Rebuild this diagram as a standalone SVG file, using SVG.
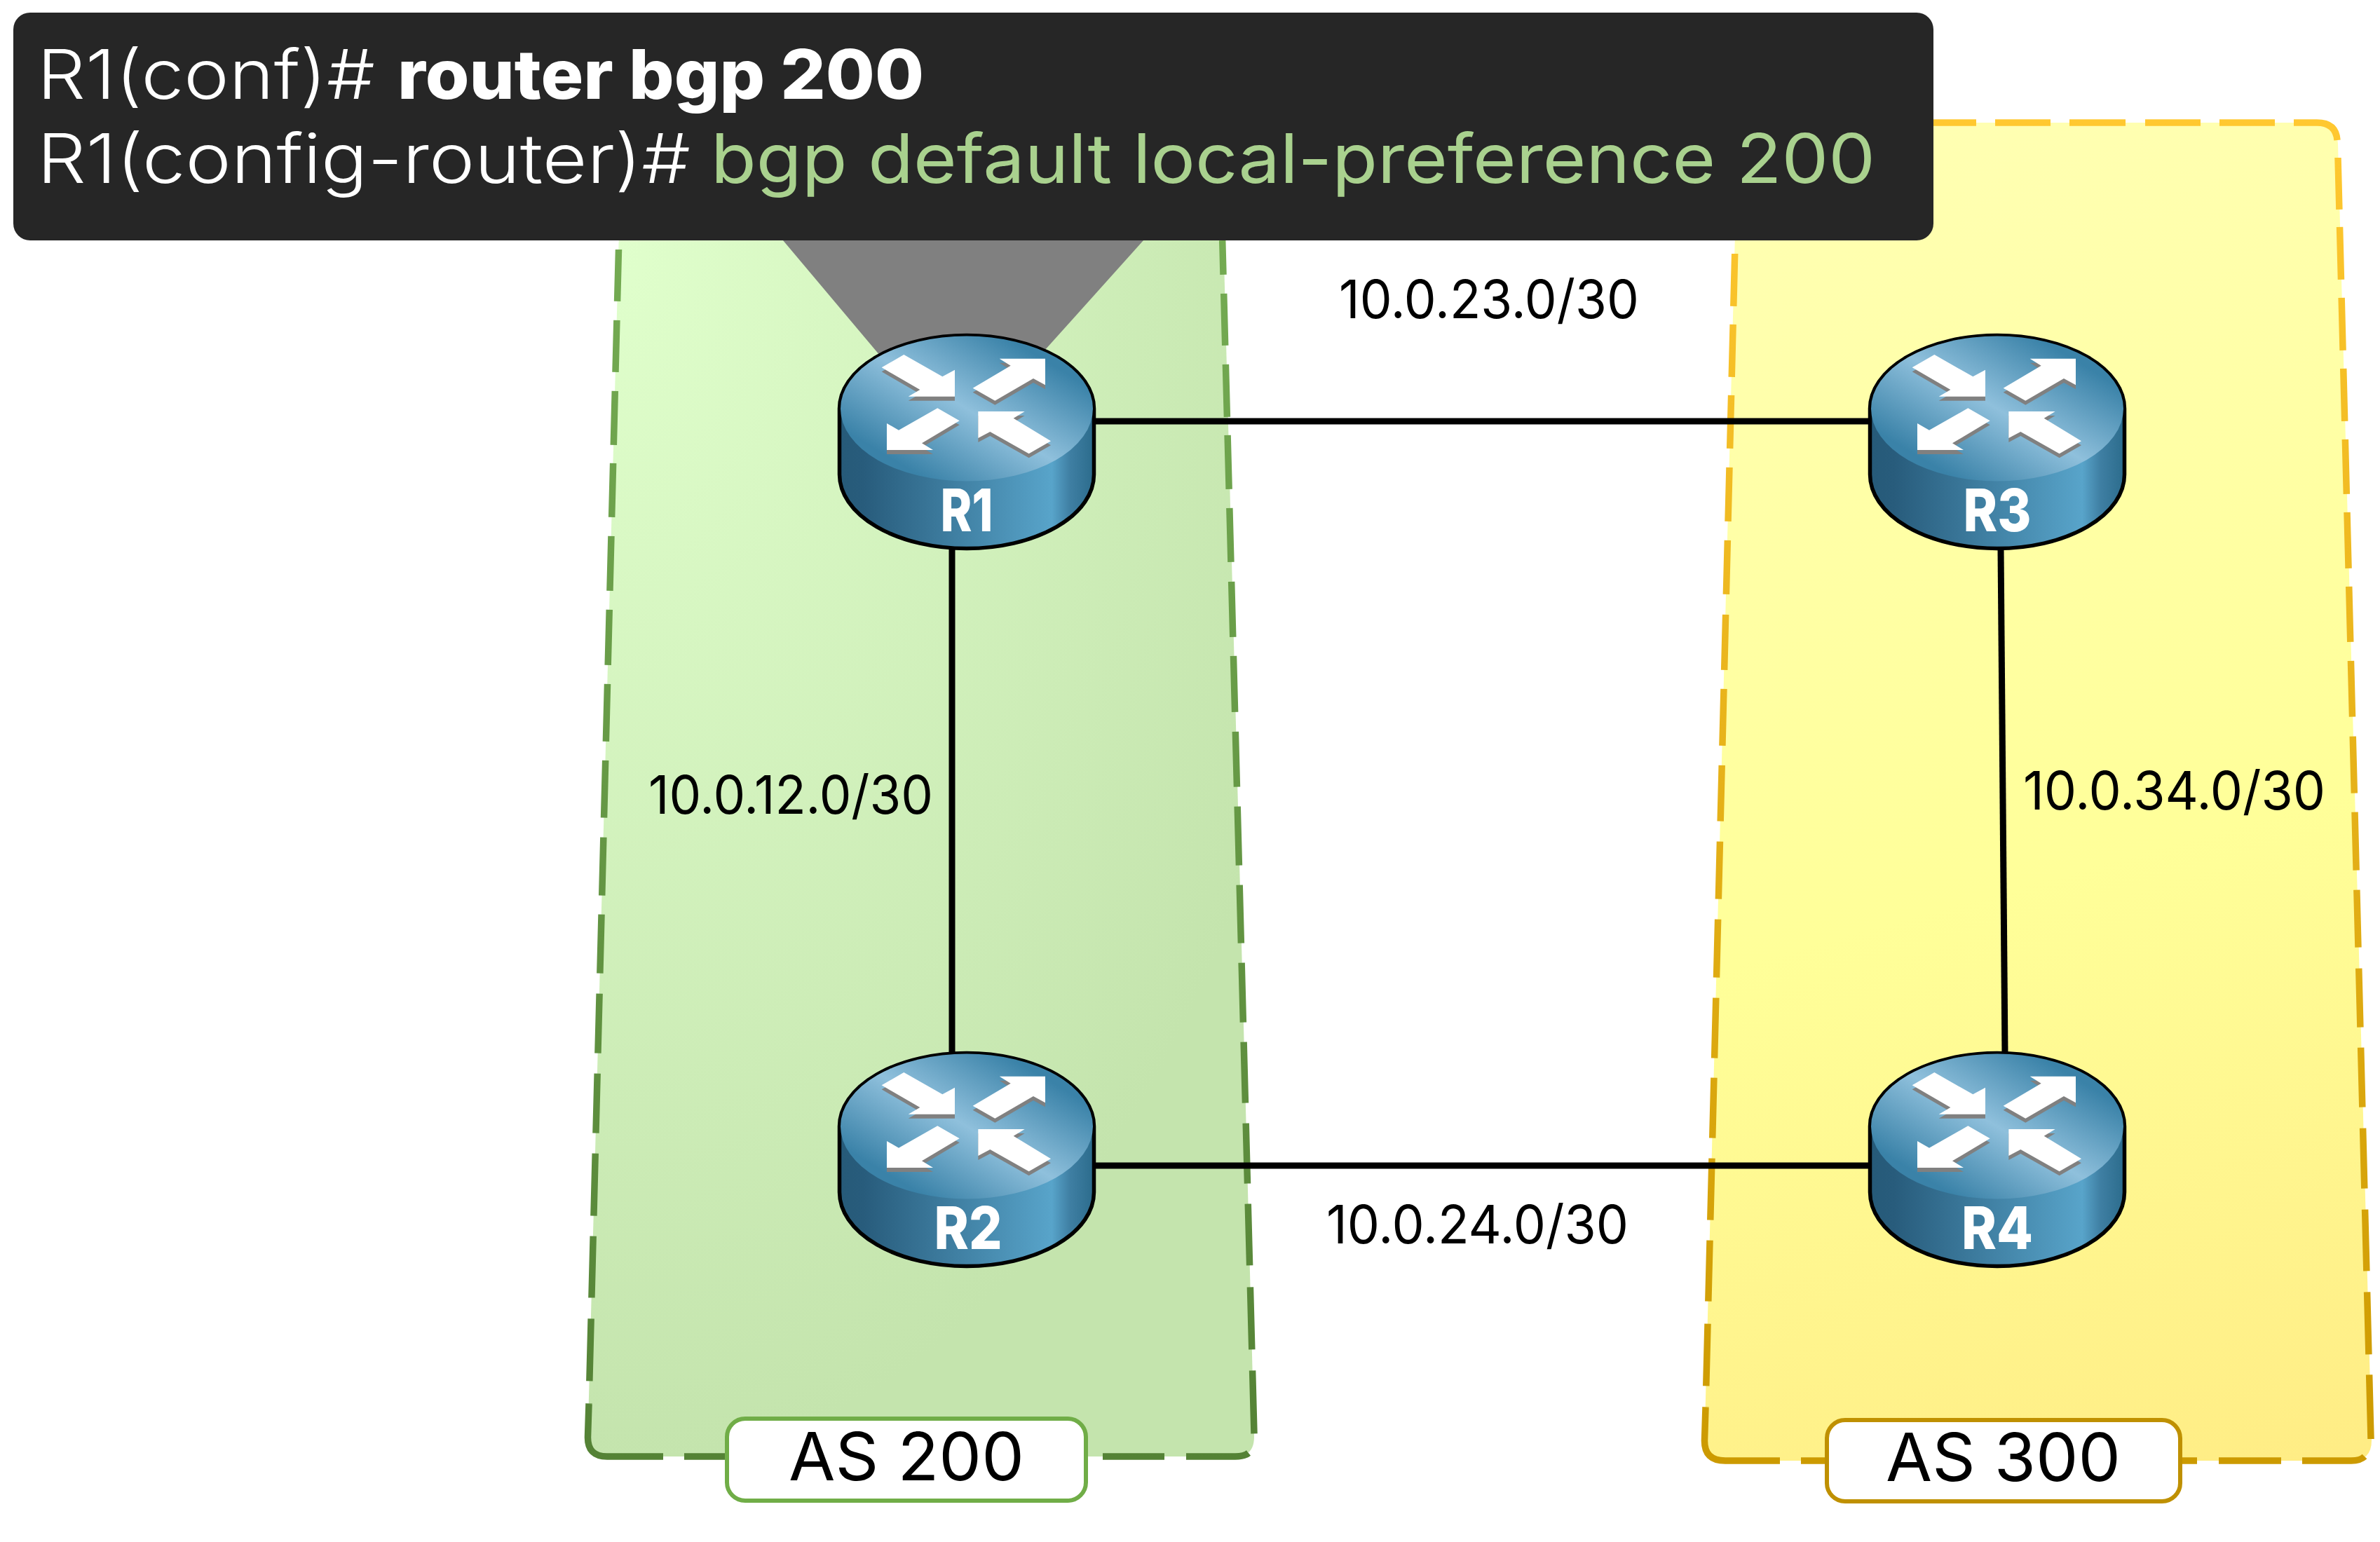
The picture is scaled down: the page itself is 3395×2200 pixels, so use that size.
<svg xmlns="http://www.w3.org/2000/svg" width="3395" height="2200" viewBox="0 0 3395 2200">
<style>
text{font-family:"Inter","Liberation Sans",sans-serif}
.net{font-size:76px;font-weight:400;fill:#000}
.as{font-size:95px;font-weight:400;fill:#000}
.cli{font-size:97px;font-weight:300;fill:#fff}
.rn{font-size:84px;font-weight:800;fill:#fff;text-anchor:middle}
.link{stroke:#000;stroke-width:9;fill:none}
.dash{fill:none;stroke-width:9.5}
.tag{fill:#fff;stroke-width:6}
</style>
<defs>
<radialGradient id="gz" gradientUnits="userSpaceOnUse" cx="0" cy="0" r="1" gradientTransform="translate(883 343) scale(1050 1750)"><stop offset="0" stop-color="#e0ffcc"/><stop offset="1" stop-color="#c4e4ad"/></radialGradient>
<linearGradient id="gs" gradientUnits="userSpaceOnUse" x1="0" y1="343" x2="0.01" y2="2080"><stop offset="0" stop-color="#74ab52"/><stop offset="1" stop-color="#548235"/></linearGradient>
<linearGradient id="yz" gradientUnits="userSpaceOnUse" x1="2480" y1="175" x2="3050" y2="2200"><stop offset="0" stop-color="#ffffb4"/><stop offset=".55" stop-color="#ffff99"/><stop offset="1" stop-color="#ffec84"/></linearGradient>
<linearGradient id="ys" gradientUnits="userSpaceOnUse" x1="0" y1="175" x2="0.01" y2="2085"><stop offset="0" stop-color="#ffc830"/><stop offset="1" stop-color="#cc9a00"/></linearGradient>
<linearGradient id="rt" gradientUnits="userSpaceOnUse" x1="244" y1="7" x2="124" y2="207"><stop offset="0" stop-color="#3a82a8"/><stop offset=".5" stop-color="#8fc0dc"/><stop offset="1" stop-color="#3a82a8"/></linearGradient>
<linearGradient id="rs" gradientUnits="userSpaceOnUse" x1="0" y1="0" x2="368" y2="0"><stop offset="0" stop-color="#265a78"/><stop offset=".1" stop-color="#285c7c"/><stop offset=".83" stop-color="#58a4ca"/><stop offset=".9" stop-color="#3f7fa3"/><stop offset="1" stop-color="#2a6a8a"/></linearGradient>
<g id="arrows">
<polygon points="473,313 568,258 733,352 786,323 786,437 587,437 637,408"/>
<polygon points="863,401 1025,305 977,275 1173,275 1173,388 1122,360 958,455"/>
<polygon points="806,541 712,487 546,581 495,552 495,666 693,666 645,637"/>
<polygon points="886,501 1085,501 1037,530 1197,628 1103,682 937,588 886,615"/>
</g>
<g id="router">
<path d="M2.5,107A181.5,104.5 0 0 1 365.5,107V201A181.5,105.5 0 0 1 2.5,201Z" fill="url(#rs)" stroke="#000" stroke-width="5.5"/>
<ellipse cx="184" cy="107" rx="180" ry="103.5" fill="url(#rt)"/>
<g transform="scale(.33333) translate(-285 -168)">
<use href="#arrows" y="18" fill="#808080"/>
<use href="#arrows" fill="#fff"/>
</g>
</g>
</defs>

<g id="as200">
<path d="M887,175L1741,175L1789,2050Q1789,2078 1762,2078L866,2078Q838,2078 838.5,2050Z" fill="url(#gz)"/>
<g class="dash" stroke="url(#gs)">
<path d="M882.5,356L840,2003" stroke-dasharray="74 27 74 27 77 26 77 27 78 27 79 27 82 27 82 28 83 27 84 29 85 29 85 29 89 29 88 30 89 32"/>
<path d="M840,2003L838.5,2050Q838,2078 866,2078L946,2078M976,2078L1040,2078M1573,2078L1661,2078M1692,2078L1762,2078Q1775,2078 1781,2073"/>
<path d="M1743.7,343L1789,2046" stroke-dasharray="49 27 74 27 75 26 77 27 77 28 79 27 80 28 79 28 84 28 83 28 85 28 87 29 86 29 88 31 89 30 90"/>
</g>
</g>
<g id="as300">
<path d="M2479,175L3305,175Q3333,175 3335,205L3383,2055Q3383,2084 3354,2084L2461,2084Q2431,2084 2431.5,2055Z" fill="url(#yz)"/>
<g class="dash" stroke="url(#ys)">
<path d="M2750,175L2819,175M2846,175L2925,175M2952,175L3032,175M3060,175L3139,175M3166,175L3245,175M3272,175L3305,175Q3332,175 3334,200"/>
<path d="M3335,225L3382,2053" stroke-dasharray="74 25 75 26 75 26 75 26 78 26 80 26 79 27 80 28 81 27 83 28 82 30 84 29 85 30 86 30 88 30 89 29 92"/>
<path d="M2474.7,362L2433,2008" stroke-dasharray="75 26 75 26 76 27 77 27 77 29 79 27 81 28 80 29 82 29 83 29 86 28 86 29 88 29 87 32 89 30"/>
<path d="M2433,2008L2431.5,2055Q2431,2084 2461,2084L2539,2084M2569,2084L2610,2084M3105,2084L3134,2084M3165,2084L3254,2084M3284,2084L3354,2084Q3367,2084 3373,2078"/>
</g>
</g>

<polygon id="callout-beam" points="1117,343 1631,343 1490,500 1255,507" fill="#808080"/>

<g id="connectors">
<line class="link" x1="1560" y1="601" x2="2668" y2="601"/>
<line class="link" x1="1560" y1="1663" x2="2668" y2="1663"/>
<line class="link" x1="1358" y1="782" x2="1358" y2="1503"/>
<line class="link" x1="2854" y1="782" x2="2860" y2="1503"/>
</g>

<g id="R1"><use href="#router" x="1195" y="476"/><text class="rn" x="1379" y="758" textLength="75" lengthAdjust="spacingAndGlyphs">R1</text></g>
<g id="R2"><use href="#router" x="1195" y="1500"/><text class="rn" x="1381" y="1782" textLength="97" lengthAdjust="spacingAndGlyphs">R2</text></g>
<g id="R3"><use href="#router" x="2665" y="476"/><text class="rn" x="2849" y="758" textLength="97" lengthAdjust="spacingAndGlyphs">R3</text></g>
<g id="R4"><use href="#router" x="2665" y="1500"/><text class="rn" x="2849" y="1782" textLength="102" lengthAdjust="spacingAndGlyphs">R4</text></g>

<g id="labels">
<text class="net" x="1910" y="454" textLength="428" lengthAdjust="spacingAndGlyphs">10.0.23.0/30</text>
<text class="net" x="925" y="1161" textLength="406" lengthAdjust="spacingAndGlyphs">10.0.12.0/30</text>
<text class="net" x="2886" y="1155" textLength="431" lengthAdjust="spacingAndGlyphs">10.0.34.0/30</text>
<text class="net" x="1892" y="1774" textLength="431" lengthAdjust="spacingAndGlyphs">10.0.24.0/30</text>
</g>

<g id="tag-as200">
<rect class="tag" x="1037" y="2024" width="512" height="117" rx="26" stroke="#70ad47"/>
<text class="as" x="1125" y="2112" textLength="336" lengthAdjust="spacingAndGlyphs">AS 200</text>
</g>
<g id="tag-as300">
<rect class="tag" x="2606" y="2026" width="504" height="116" rx="26" stroke="#bf9000"/>
<text class="as" x="2690" y="2113" textLength="335" lengthAdjust="spacingAndGlyphs">AS 300</text>
</g>

<g id="callout">
<rect x="19" y="18" width="2739" height="325" rx="24" fill="#262626"/>
<text class="cli" y="141"><tspan x="53" textLength="482" lengthAdjust="spacingAndGlyphs">R1(conf)#</tspan> <tspan x="567" textLength="751" lengthAdjust="spacingAndGlyphs" font-weight="800">router bgp 200</tspan></text>
<text class="cli" y="261"><tspan x="53" textLength="932" lengthAdjust="spacingAndGlyphs">R1(config-router)#</tspan> <tspan x="1014" textLength="1661" lengthAdjust="spacingAndGlyphs" fill="#a9d18e" font-weight="400">bgp default local-preference 200</tspan></text>
</g>
</svg>
